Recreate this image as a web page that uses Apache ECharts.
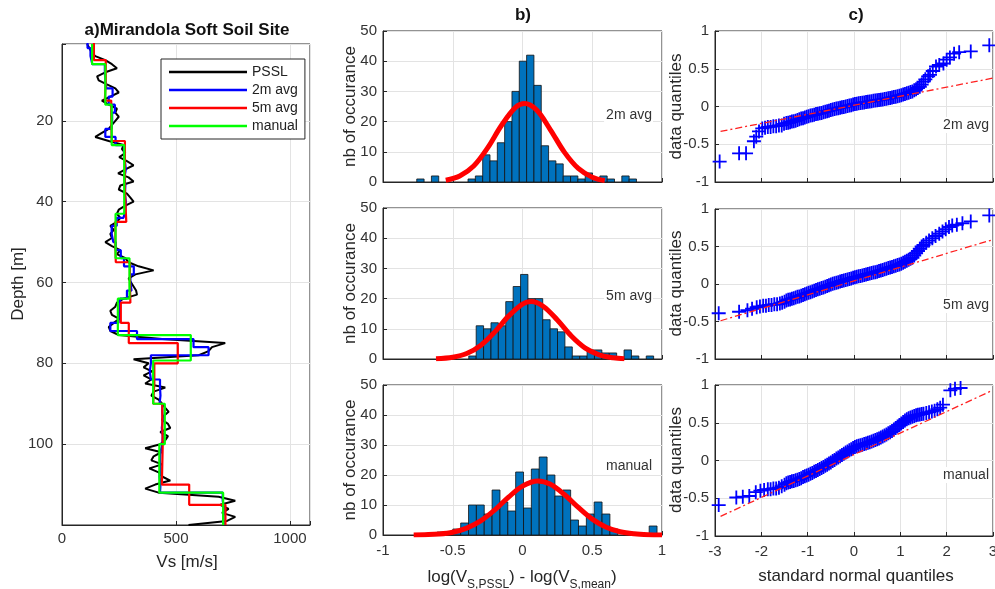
<!DOCTYPE html>
<html>
<head>
<meta charset="utf-8">
<script src="https://cdn.jsdelivr.net/npm/echarts@6/dist/echarts.min.js"></script>
<style>
  html, body { margin: 0; padding: 0; background: #fff; }
  #chart { width: 995px; height: 589px; }
</style>
</head>
<body>
<div id="chart"></div>
<script>
// ---------- a) Vs profile at the Mirandola soft soil site ----------
const psslDepth = [1,2,3,4,5,6,7,8,9,10,11,12,13,14,15,16,17,18,19,20,
  21,22,23,24,25,26,27,28,29,30,31,32,33,34,35,36,37,38,39,40,
  41,42,43,44,45,46,47,48,49,50,51,52,53,54,55,56,57,58,59,60,
  61,62,63,64,65,66,67,68,69,70,71,72,73,74,75,76,77,78,79,80,
  81,82,83,84,85,86,87,88,89,90,91,92,93,94,95,96,97,98,99,100,
  101,102,103,104,105,106,107,108,109,110,111,112,113,114,115,116,117,118,119,120];
const psslVs = [110,120,129,146,190,219,241,190,154,161,197,234,249,212,175,205,241,234,249,234,
  219,205,175,146,205,270,263,278,251,285,314,278,246,292,314,256,249,285,300,314,
  278,249,241,256,241,212,227,212,219,190,219,256,241,278,292,336,402,322,292,303,
  314,325,329,270,241,234,212,219,251,227,205,212,249,439,716,658,643,600,314,380,
  358,395,358,392,365,453,402,392,424,439,453,468,446,439,465,475,431,465,453,431,
  365,436,402,392,439,383,424,439,475,409,365,424,687,760,694,731,702,760,724,555];

// 2 m averaged layers (boundaries in m, one velocity per layer)
const avg2Depth = [0,2,4,6,8,10,12,14,16,18,20,22,24,26,28,30,32,34,36,38,40,
  42,44,46,48,50,52,54,56,58,60,62,64,66,68,70,72,74,76,78,80,
  82,84,86,88,90,92,94,96,98,100,102,104,106,108,110,112,114,116,118,120];
const avg2Vs = [112,125,133,188,190,195,222,205,232,220,
  218,190,235,272,276,280,274,278,276,280,
  278,270,240,218,225,236,258,272,315,300,
  305,285,255,250,248,212,329,577,643,390,
  385,390,430,432,428,440,442,438,442,440,
  432,430,432,428,432,430,705,712,708,710];

// 5 m averaged layers
const avg5Depth = [0,5,10,15,20,25,30,35,40,45,50,55,60,65,70,75,80,85,90,95,100,105,110,115,120];
const avg5Vs = [140,192,188,216,218,276,275,278,282,234,236,298,300,258,293,508,405,400,440,442,440,438,558,717];

// manually picked layers
const manualDepth = [1,6,16,26,43,54,64,73,79.3,90,100,112,120];
const manualVs = [132,190,218,273,235,296,245,565,400,451,427,707];

// ---------- b) residual histograms ----------
const hist2mStart = -0.758, hist2mWidth = 0.0525;
const hist2mCounts = [1,0,2,0,0,0,0,1,2,9,7,13,20,30,40,42,32,12,7,6,2,2,1,3,1,2,1,0,2,1];
const hist5mStart = -0.385, hist5mWidth = 0.053;
const hist5mCounts = [1,11,10,12,11,19,24,28,20,20,13,10,9,4,1,1,3,3,2,2,0,3,1,0,1];
const histManStart = -0.612, histManWidth = 0.0563;
const histManCounts = [1,0,2,4,10,10,7,15,11,8,21,9,22,26,20,13,15,5,3,7,11,7,2,0,0,0,0,3];

// fitted normal curves, read as (residual, count) pairs
const fit2m = [[-0.55,0.6],[-0.45,2.0],[-0.35,5.3],[-0.25,11.3],[-0.15,18.8],[-0.05,24.7],[0.015,26],
  [0.1,23.9],[0.2,17.3],[0.3,9.9],[0.4,4.5],[0.5,1.6],[0.59,0.5]];
const fit5m = [[-0.62,0.1],[-0.5,0.6],[-0.4,1.8],[-0.3,4.5],[-0.2,8.9],[-0.1,14.2],[0,18.2],[0.062,19],
  [0.15,17.4],[0.25,12.9],[0.35,7.6],[0.45,3.6],[0.55,1.4],[0.65,0.4],[0.73,0.1]];
const fitMan = [[-0.78,0.03],[-0.7,0.1],[-0.6,0.3],[-0.5,0.9],[-0.4,2.3],[-0.3,4.7],[-0.2,8.3],[-0.1,12.6],
  [0,16.3],[0.11,18],[0.2,16.9],[0.3,13.5],[0.4,9.2],[0.5,5.3],[0.6,2.6],[0.7,1.1],[0.8,0.4],[0.9,0.1],[1.0,0.03]];

// ---------- c) normal QQ plots: [standard normal quantile, data quantile] ----------
const qq2m = [[-2.90,-0.73],[-2.48,-0.62],[-2.33,-0.62],[-2.16,-0.46],[-2.11,-0.40],[-2.05,-0.33],[-1.98,-0.29],
  [-1.92,-0.28],[-1.86,-0.27],[-1.80,-0.27],[-1.74,-0.26],[-1.68,-0.26],[-1.62,-0.25],[-1.56,-0.25],[-1.51,-0.23],
  [-1.46,-0.22],[-1.42,-0.215],[-1.38,-0.21],[-1.34,-0.20],[-1.30,-0.195],[-1.26,-0.19],[-1.22,-0.18],[-1.18,-0.17],
  [-1.14,-0.16],[-1.10,-0.155],[-1.06,-0.145],[-1.02,-0.135],[-0.98,-0.13],[-0.94,-0.12],[-0.90,-0.115],[-0.86,-0.11],
  [-0.82,-0.10],[-0.78,-0.095],[-0.74,-0.09],[-0.70,-0.085],[-0.66,-0.075],[-0.62,-0.068],[-0.58,-0.062],[-0.54,-0.055],
  [-0.50,-0.048],[-0.46,-0.04],[-0.42,-0.034],[-0.38,-0.028],[-0.34,-0.022],[-0.30,-0.016],[-0.26,-0.01],[-0.22,-0.005],
  [-0.18,0.0],[-0.14,0.006],[-0.10,0.012],[-0.06,0.018],[-0.02,0.025],[0.02,0.033],[0.06,0.038],[0.10,0.042],
  [0.14,0.046],[0.18,0.05],[0.22,0.054],[0.26,0.058],[0.30,0.062],[0.34,0.066],[0.38,0.07],[0.42,0.075],
  [0.46,0.079],[0.50,0.083],[0.54,0.087],[0.58,0.09],[0.62,0.094],[0.66,0.098],[0.70,0.102],[0.74,0.108],
  [0.78,0.114],[0.82,0.12],[0.86,0.125],[0.90,0.13],[0.94,0.136],[0.98,0.143],[1.02,0.15],[1.06,0.158],
  [1.10,0.166],[1.14,0.174],[1.18,0.183],[1.22,0.192],[1.26,0.20],[1.30,0.215],[1.34,0.23],[1.38,0.245],
  [1.42,0.26],[1.46,0.29],[1.50,0.33],[1.54,0.36],
  [1.60,0.40],[1.64,0.42],[1.70,0.47],[1.77,0.53],[1.84,0.55],[1.93,0.57],[2.00,0.62],[2.07,0.65],
  [2.16,0.70],[2.27,0.72],[2.52,0.73],[2.92,0.81]];
const qq5m = [[-2.92,-0.39],[-2.48,-0.37],[-2.30,-0.35],[-2.20,-0.33],[-2.10,-0.31],[-2.03,-0.30],[-1.96,-0.29],
  [-1.90,-0.29],[-1.84,-0.28],[-1.78,-0.28],[-1.72,-0.27],[-1.66,-0.27],[-1.60,-0.26],[-1.55,-0.25],[-1.50,-0.235],
  [-1.46,-0.22],[-1.42,-0.21],[-1.38,-0.205],[-1.34,-0.195],[-1.30,-0.19],[-1.26,-0.18],[-1.22,-0.17],[-1.18,-0.165],
  [-1.14,-0.155],[-1.10,-0.145],[-1.06,-0.135],[-1.02,-0.125],[-0.98,-0.118],[-0.94,-0.11],[-0.90,-0.10],[-0.86,-0.09],
  [-0.82,-0.08],[-0.78,-0.07],[-0.74,-0.062],[-0.70,-0.054],[-0.66,-0.045],[-0.62,-0.035],[-0.58,-0.026],[-0.54,-0.017],
  [-0.50,-0.008],[-0.46,0.002],[-0.42,0.01],[-0.38,0.018],[-0.34,0.025],[-0.30,0.032],[-0.26,0.04],[-0.22,0.047],
  [-0.18,0.054],[-0.14,0.061],[-0.10,0.068],[-0.06,0.075],[-0.02,0.082],[0.02,0.09],[0.06,0.096],[0.10,0.102],
  [0.14,0.108],[0.18,0.115],[0.22,0.121],[0.26,0.127],[0.30,0.133],[0.34,0.14],[0.38,0.146],[0.42,0.152],
  [0.46,0.158],[0.50,0.165],[0.54,0.172],[0.58,0.18],[0.62,0.188],[0.66,0.196],[0.70,0.204],[0.74,0.212],
  [0.78,0.22],[0.82,0.228],[0.86,0.236],[0.90,0.244],[0.94,0.252],[0.98,0.26],[1.02,0.27],[1.06,0.283],
  [1.10,0.296],[1.14,0.31],[1.18,0.323],[1.22,0.336],[1.26,0.35],[1.30,0.38],[1.34,0.41],[1.38,0.44],
  [1.42,0.47],[1.46,0.50],[1.50,0.52],
  [1.56,0.55],[1.62,0.58],[1.69,0.61],[1.76,0.64],[1.84,0.67],[1.91,0.70],[1.98,0.73],[2.05,0.76],
  [2.12,0.78],[2.22,0.79],[2.34,0.81],[2.52,0.835],[2.92,0.915]];
const qqMan = [[-2.92,-0.59],[-2.54,-0.49],[-2.40,-0.48],[-2.26,-0.47],[-2.12,-0.42],[-2.02,-0.40],[-1.94,-0.39],
  [-1.86,-0.38],[-1.80,-0.38],[-1.74,-0.37],[-1.68,-0.37],[-1.62,-0.36],[-1.56,-0.34],[-1.50,-0.32],
  [-1.46,-0.30],[-1.42,-0.29],[-1.38,-0.285],[-1.34,-0.275],[-1.30,-0.27],[-1.26,-0.26],[-1.22,-0.255],[-1.18,-0.245],
  [-1.14,-0.235],[-1.10,-0.22],[-1.06,-0.21],[-1.02,-0.20],[-0.98,-0.19],[-0.94,-0.175],[-0.90,-0.165],[-0.86,-0.15],
  [-0.82,-0.14],[-0.78,-0.125],[-0.74,-0.112],[-0.70,-0.10],[-0.66,-0.085],[-0.62,-0.07],[-0.58,-0.055],[-0.54,-0.04],
  [-0.50,-0.025],[-0.46,-0.008],[-0.42,0.008],[-0.38,0.025],[-0.34,0.04],[-0.30,0.057],[-0.26,0.073],[-0.22,0.09],
  [-0.18,0.105],[-0.14,0.12],[-0.10,0.135],[-0.06,0.15],[-0.02,0.165],[0.02,0.18],[0.06,0.188],[0.10,0.195],
  [0.14,0.203],[0.18,0.21],[0.22,0.218],[0.26,0.226],[0.30,0.234],[0.34,0.243],[0.38,0.252],[0.42,0.262],
  [0.46,0.272],[0.50,0.282],[0.54,0.293],[0.58,0.305],[0.62,0.318],[0.66,0.33],[0.70,0.345],[0.74,0.36],
  [0.78,0.375],[0.82,0.39],[0.86,0.41],[0.90,0.43],[0.94,0.45],[0.98,0.47],[1.02,0.49],[1.06,0.51],
  [1.10,0.53],[1.14,0.545],[1.18,0.56],[1.22,0.57],[1.26,0.58],[1.30,0.59],[1.34,0.60],[1.38,0.605],
  [1.42,0.61],[1.46,0.615],[1.50,0.62],
  [1.56,0.63],[1.62,0.64],[1.68,0.65],[1.74,0.66],[1.80,0.68],[1.86,0.70],[1.92,0.74],[2.08,0.93],
  [2.18,0.95],[2.30,0.96]];

// reference lines through the quartiles
const qqLine2m = [[-2.88,-0.33],[2.99,0.375]];
const qqLine5m = [[-2.88,-0.49],[2.99,0.59]];
const qqLineMan = [[-2.88,-0.74],[2.99,0.93]];

const panelNames = ['2m avg', '5m avg', 'manual'];

// ---------- helpers ----------
const FONT = "'Liberation Sans', Arial, sans-serif";
const AXIS_COLOR = '#262626';
const LABEL_COLOR = '#333';
const GRID_LINE = '#e3e3e3';
const TICK_SIZE = 15;

function stepPoints(bounds, values) {
  const pts = [];
  values.forEach((v, i) => { pts.push([v, bounds[i]]); pts.push([v, bounds[i + 1]]); });
  return pts;
}
function binItems(start, width, counts) {
  const items = [];
  counts.forEach((c, i) => { if (c > 0) items.push([start + i * width, start + (i + 1) * width, c]); });
  return items;
}
function renderBin(params, api) {
  const top = api.coord([api.value(0), api.value(2)]);
  const bottom = api.coord([api.value(1), 0]);
  return {
    type: 'rect',
    shape: { x: top[0], y: top[1], width: bottom[0] - top[0], height: bottom[1] - top[1] },
    style: { fill: '#0072BD', stroke: '#111', lineWidth: 0.8 }
  };
}

// plus-shaped marker
const PLUS = 'path://M8.7,0H11.3V8.7H20V11.3H11.3V20H8.7V11.3H0V8.7H8.7Z';

const gridBase = { show: true, borderColor: AXIS_COLOR, borderWidth: 1, backgroundColor: '#fff', containLabel: false, outerBoundsMode: 'none' };
const grids = [
  Object.assign({ left: 62, top: 44, width: 248, height: 481 }, gridBase),
  Object.assign({ left: 383, top: 31, width: 279, height: 151 }, gridBase),
  Object.assign({ left: 383, top: 208, width: 279, height: 151 }, gridBase),
  Object.assign({ left: 383, top: 385, width: 279, height: 150 }, gridBase),
  Object.assign({ left: 715, top: 31, width: 278, height: 151 }, gridBase),
  Object.assign({ left: 715, top: 209, width: 278, height: 150 }, gridBase),
  Object.assign({ left: 715, top: 385, width: 278, height: 151 }, gridBase)
];

function tickLabels(margin, extra) {
  return Object.assign({ fontFamily: FONT, fontSize: TICK_SIZE, color: LABEL_COLOR, margin }, extra || {});
}
function valueAxis(gridIndex, opts) {
  return Object.assign({
    type: 'value', gridIndex,
    axisLine: { show: true, onZero: false, lineStyle: { color: AXIS_COLOR, width: 1 } },
    axisTick: { show: true, inside: true, length: 4, lineStyle: { color: AXIS_COLOR } },
    splitLine: { show: true, lineStyle: { color: GRID_LINE, width: 1 } },
    axisLabel: tickLabels(8)
  }, opts);
}

const xAxes = [
  valueAxis(0, { min: 0, max: 1088, interval: 500,
    axisLabel: tickLabels(6, { formatter: v => (v % 500 === 0 ? String(v) : '') }) }),
  valueAxis(1, { min: -1, max: 1, interval: 0.5, axisLabel: { show: false } }),
  valueAxis(2, { min: -1, max: 1, interval: 0.5, axisLabel: { show: false } }),
  valueAxis(3, { min: -1, max: 1, interval: 0.5, axisLabel: tickLabels(8) }),
  valueAxis(4, { min: -3, max: 3, interval: 1, axisLabel: { show: false } }),
  valueAxis(5, { min: -3, max: 3, interval: 1, axisLabel: { show: false } }),
  valueAxis(6, { min: -3, max: 3, interval: 1, axisLabel: tickLabels(8) })
];
const yAxes = [
  valueAxis(0, { min: 1, max: 120, inverse: true, splitNumber: 6,
    axisLabel: tickLabels(9, { formatter: v => (v % 20 === 0 && v > 0 && v < 120 ? String(v) : '') }) }),
  valueAxis(1, { min: 0, max: 50, interval: 10, axisLabel: tickLabels(6) }),
  valueAxis(2, { min: 0, max: 50, interval: 10, axisLabel: tickLabels(6) }),
  valueAxis(3, { min: 0, max: 50, interval: 10, axisLabel: tickLabels(6) }),
  valueAxis(4, { min: -1, max: 1, interval: 0.5, axisLabel: tickLabels(6) }),
  valueAxis(5, { min: -1, max: 1, interval: 0.5, axisLabel: tickLabels(6) }),
  valueAxis(6, { min: -1, max: 1, interval: 0.5, axisLabel: tickLabels(6) })
];

function profileLine(name, color, data, width) {
  return {
    name, type: 'line', xAxisIndex: 0, yAxisIndex: 0, data,
    showSymbol: false, symbol: 'none', clip: true,
    lineStyle: { color, width }, itemStyle: { color }
  };
}

const series = [
  profileLine('PSSL', '#000000', psslDepth.map((d, i) => [psslVs[i], d]), 2),
  profileLine('2m avg', '#0000ff', stepPoints(avg2Depth, avg2Vs), 2.2),
  profileLine('5m avg', '#ff0000', stepPoints(avg5Depth, avg5Vs), 2.2),
  profileLine('manual', '#00ff00', stepPoints(manualDepth, manualVs), 2.2)
];

const hists = [
  [hist2mStart, hist2mWidth, hist2mCounts, fit2m],
  [hist5mStart, hist5mWidth, hist5mCounts, fit5m],
  [histManStart, histManWidth, histManCounts, fitMan]
];
hists.forEach(([start, width, counts, fit], k) => {
  series.push({
    type: 'custom', xAxisIndex: k + 1, yAxisIndex: k + 1,
    data: binItems(start, width, counts), encode: { x: [0, 1], y: 2 },
    renderItem: renderBin, clip: true
  });
  series.push({
    type: 'line', xAxisIndex: k + 1, yAxisIndex: k + 1, data: fit,
    smooth: 0.35, symbol: 'none', clip: true,
    lineStyle: { color: '#ff0000', width: 5 }
  });
});

const qqs = [[qq2m, qqLine2m], [qq5m, qqLine5m], [qqMan, qqLineMan]];
qqs.forEach(([pts, ref], k) => {
  series.push({
    type: 'line', xAxisIndex: k + 4, yAxisIndex: k + 4, data: ref,
    symbol: 'none', clip: true,
    lineStyle: { color: '#ff2020', width: 1.3, type: [7, 3, 2, 3] }
  });
  series.push({
    type: 'scatter', xAxisIndex: k + 4, yAxisIndex: k + 4, data: pts,
    symbol: PLUS, symbolSize: 14, clip: true,
    itemStyle: { color: '#0000ff', opacity: 1 }
  });
});

function txt(text, x, y, opts) {
  const o = Object.assign({ size: 17, weight: 'normal', align: 'center', rot: 0, color: '#262626', bg: null }, opts || {});
  const style = {
    text, fill: o.color,
    font: `${o.weight} ${o.size}px ${FONT}`,
    textAlign: o.align, align: o.align,
    textVerticalAlign: 'middle', verticalAlign: 'middle'
  };
  if (o.bg) { style.backgroundColor = o.bg; style.padding = [1, 1, 1, 2]; }
  return { type: 'text', x, y, rotation: o.rot, silent: true, z: 100, style };
}

const graphics = [
  txt('a)Mirandola Soft Soil Site', 187, 30, { weight: 'bold', size: 17, color: '#111' }),
  txt('b)', 523, 15, { weight: 'bold', size: 17, color: '#111' }),
  txt('c)', 856, 15, { weight: 'bold', size: 17, color: '#111' }),
  txt('Depth [m]', 18, 284, { rot: Math.PI / 2 }),
  txt('Vs [m/s]', 187, 562),
  txt('standard normal quantiles', 856, 576),
  {
    type: 'text', x: 522, y: 577, silent: true, z: 100,
    style: {
      text: '{m|log(V}{s|S,PSSL}{m|) - log(V}{s|S,mean}{m|)}',
      textAlign: 'center', align: 'center', textVerticalAlign: 'middle', verticalAlign: 'middle',
      rich: {
        m: { fontFamily: FONT, fontSize: 17, lineHeight: 27, verticalAlign: 'middle', fill: '#262626', color: '#262626' },
        s: { fontFamily: FONT, fontSize: 12, lineHeight: 12, verticalAlign: 'bottom', fill: '#262626', color: '#262626' }
      }
    }
  }
];
const panelCenters = [106.5, 283.5, 460];
panelCenters.forEach(cy => {
  graphics.push(txt('nb of occurance', 350, cy, { rot: Math.PI / 2 }));
  graphics.push(txt('data quantiles', 676, cy, { rot: Math.PI / 2 }));
});
const histTagY = [115, 296, 466];
const qqTagY = [125, 305, 475];
panelNames.forEach((n, k) => {
  graphics.push(txt(n, 653, histTagY[k], { size: 14, align: 'right', color: '#333', bg: '#fff' }));
  graphics.push(txt(n, 990, qqTagY[k], { size: 14, align: 'right', color: '#333', bg: '#fff' }));
});

const chart = echarts.init(document.getElementById('chart'), null, { renderer: 'canvas' });
chart.setOption({
  animation: false,
  backgroundColor: '#fff',
  grid: grids,
  xAxis: xAxes,
  yAxis: yAxes,
  legend: {
    data: ['PSSL', '2m avg', '5m avg', 'manual'],
    orient: 'vertical', left: 161, top: 59,
    icon: 'rect', itemWidth: 78, itemHeight: 2.5, itemGap: 4,
    padding: [6, 7, 6, 8],
    backgroundColor: '#fff', borderColor: '#262626', borderWidth: 1,
    textStyle: { fontFamily: FONT, fontSize: 14, color: '#222' },
    selectedMode: false
  },
  series,
  graphic: graphics
});
</script>
</body>
</html>
